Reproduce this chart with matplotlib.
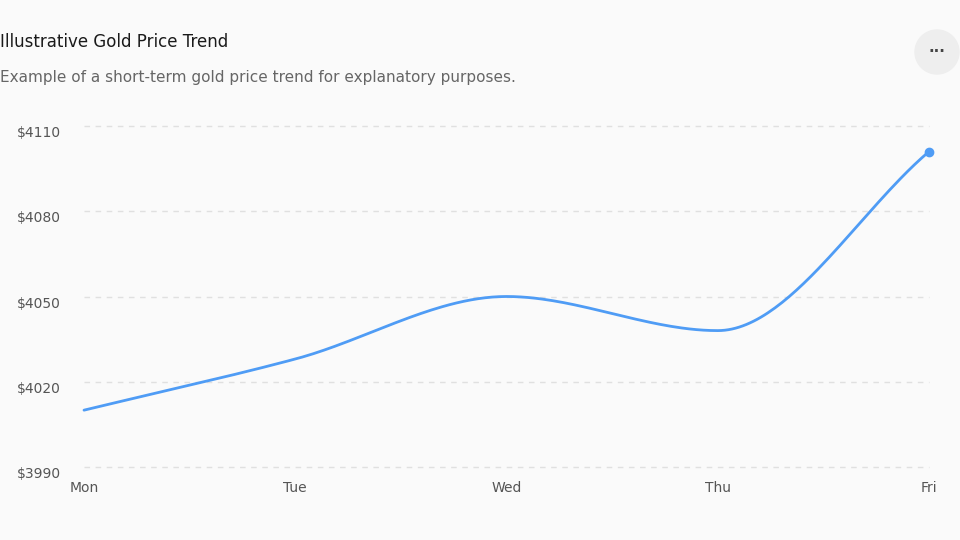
import numpy as np
import matplotlib.pyplot as plt

days = ['Mon', 'Tue', 'Wed', 'Thu', 'Fri']
prices = [4010, 4028, 4050, 4038, 4101]
yticks = [3990, 4020, 4050, 4080, 4110]


def monotone_curve(x, y, n=60):
    # Fritsch-Carlson monotone cubic, only for drawing the smooth line
    x = np.asarray(x, float)
    y = np.asarray(y, float)
    h = np.diff(x)
    d = np.diff(y) / h
    m = np.zeros_like(y)
    m[0], m[-1] = d[0], d[-1]
    for i in range(1, len(y) - 1):
        if d[i - 1] * d[i] <= 0:
            m[i] = 0
        else:
            m[i] = 3 * (h[i - 1] + h[i]) / ((2 * h[i] + h[i - 1]) / d[i - 1] + (h[i] + 2 * h[i - 1]) / d[i])
    xs, ys = [], []
    for i in range(len(h)):
        t = np.linspace(0, 1, n)
        h00 = 2 * t**3 - 3 * t**2 + 1
        h10 = t**3 - 2 * t**2 + t
        h01 = -2 * t**3 + 3 * t**2
        h11 = t**3 - t**2
        xs.append(x[i] + t * h[i])
        ys.append(h00 * y[i] + h10 * h[i] * m[i] + h01 * y[i + 1] + h11 * h[i] * m[i + 1])
    return np.concatenate(xs), np.concatenate(ys)


bg = '#fafafa'
line_color = '#4f9cf5'

fig = plt.figure(figsize=(9.6, 5.4), dpi=100, facecolor=bg)
ax = fig.add_axes([84 / 960, 1 - 467 / 540, 845 / 960, 341 / 540], facecolor=bg)

x = np.arange(len(days))
cx, cy = monotone_curve(x, prices)
ax.plot(cx, cy, color=line_color, lw=2, solid_capstyle='round', clip_on=False)
ax.plot(x[-1], prices[-1], 'o', color=line_color, ms=6, clip_on=False)

ax.set_xlim(0, len(days) - 1)
ax.set_ylim(3990, 4110)
ax.set_xticks(x)
ax.set_xticklabels(days)
ax.set_yticks(yticks)
ax.set_yticklabels([f'${v}' for v in yticks])
ax.tick_params(length=0, labelsize=10, colors='#555555', pad=10)
ax.tick_params(axis='y', pad=48)
for lbl in ax.get_yticklabels():
    lbl.set_horizontalalignment('left')
    lbl.set_verticalalignment('top')
ax.grid(axis='y', color='#e0e0e0', ls=(0, (4, 4)), lw=1, clip_on=False)
ax.grid(axis='x', visible=False)
for s in ax.spines.values():
    s.set_visible(False)

fig.text(0.0, 1 - 42 / 540, 'Illustrative Gold Price Trend', fontsize=12, color='#1a1a1a',
         fontweight='medium', va='center')
fig.text(0.0, 1 - 78 / 540, 'Example of a short-term gold price trend for explanatory purposes.',
         fontsize=11, color='#666666', va='center')
circle = plt.Circle((937 / 100, 5.4 - 52 / 100), 0.22, transform=fig.dpi_scale_trans,
                    color='#eeeeee')
fig.patches.append(circle)
fig.text(937 / 960, 1 - 52 / 540, '···', fontsize=11, color='#444444', ha='center', va='center',
         fontweight='bold')

fig.savefig('out.png', dpi=100, facecolor=bg)
